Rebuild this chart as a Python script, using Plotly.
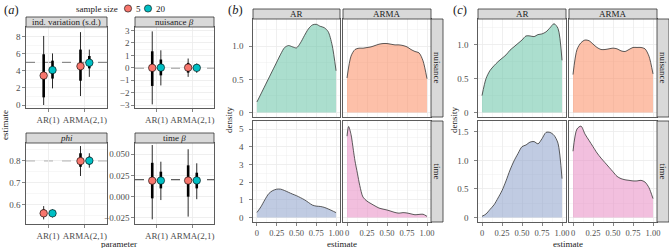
import plotly.graph_objects as go

W, H = 669, 248
FONT = "Liberation Serif"
TXT = "#1A1A1A"
TICK = "#4D4D4D"
GRID = "#EBEBEB"
BORDER = "#333333"
STRIP = "#D9D9D9"

# ---------------- panel (a) data ----------------
param_labels = ["ind. variation (s.d.)", "nuisance <i>β</i>", "<i>phi</i>", "time <i>β</i>"]
model_labels = ["AR(1)", "ARMA(2,1)"]
size_labels = ["5", "20"]
size_colors = ["#F8766D", "#00BFC4"]
true_values = [5, 0, 0.8, 0.02]

# order: sd-AR, sd-ARMA, nuis-AR, nuis-ARMA, phi-AR, phi-ARMA, time-AR, time-ARMA
est_n5 = [3.45, 4.55, 0.00, 0.02, 0.559, 0.798, 0.0189, 0.0190]
lo95_n5 = [0.00, 1.05, -2.93, -0.72, 0.531, 0.730, -0.0268, -0.0236]
hi95_n5 = [8.10, 8.55, 2.93, 0.75, 0.592, 0.867, 0.0610, 0.0560]
lo50_n5 = [0.90, 2.85, -1.45, -0.38, 0.545, 0.772, -0.0020, 0.0000]
hi50_n5 = [5.95, 6.50, 1.33, 0.40, 0.577, 0.834, 0.0400, 0.0370]

est_n20 = [4.10, 4.96, 0.02, 0.00, 0.559, 0.800, 0.0190, 0.0192]
lo95_n20 = [1.95, 3.30, -1.41, -0.40, 0.540, 0.768, -0.0040, -0.0030]
hi95_n20 = [6.05, 6.50, 1.41, 0.35, 0.577, 0.834, 0.0413, 0.0394]
lo50_n20 = [3.10, 4.30, -0.60, -0.20, 0.548, 0.783, 0.0098, 0.0098]
hi50_n20 = [5.20, 5.75, 0.67, 0.20, 0.570, 0.818, 0.0295, 0.0283]

sd_ticks = [0, 2, 4, 6, 8]
nuis_ticks = [-3, -2, -1, 0, 1, 2, 3]
phi_ticks = [0.6, 0.7, 0.8]
phi_ticktext = ["0.6", "0.7", "0.8"]
time_ticks = [-0.025, 0, 0.025, 0.05]
time_ticktext = ["−0.025", "0.000", "0.025", "0.050"]

# ---------------- panels (b),(c) density data ----------------
model_cols = ["AR", "ARMA"]
process_rows = ["nuisance", "time"]
dens_x = [0, 0.05, 0.10, 0.15, 0.20, 0.25, 0.30, 0.35, 0.40, 0.45, 0.50,
          0.55, 0.60, 0.65, 0.70, 0.75, 0.80, 0.85, 0.90, 0.95, 1.00]
b_nuis_ar = [0.16, 0.28, 0.40, 0.52, 0.64, 0.76, 0.88, 0.98, 1.01, 0.99, 0.975,
             1.05, 1.16, 1.26, 1.32, 1.33, 1.30, 1.28, 1.22, 1.02, 0.63]
b_nuis_arma = [0.52, 0.85, 0.95, 0.97, 0.97, 0.98, 0.99, 1.01, 1.03, 1.04, 1.04,
               1.03, 1.02, 1.02, 1.01, 0.99, 0.95, 0.92, 0.90, 0.78, 0.51]
b_time_ar = [0.28, 0.60, 1.00, 1.35, 1.52, 1.60, 1.60, 1.52, 1.42, 1.32, 1.23,
             1.12, 1.00, 0.85, 0.70, 0.64, 0.62, 0.57, 0.48, 0.38, 0.27]
b_time_arma_x = [0, 0.02, 0.05, 0.08, 0.10, 0.13, 0.16, 0.20, 0.25, 0.30, 0.35, 0.40,
                 0.45, 0.50, 0.55, 0.60, 0.65, 0.70, 0.75, 0.80, 0.85, 0.90, 0.95, 1.00]
b_time_arma = [4.6, 5.15, 4.7, 3.8, 3.2, 2.5, 1.8, 1.15, 0.92, 0.78, 0.65, 0.53,
               0.47, 0.42, 0.35, 0.28, 0.24, 0.27, 0.25, 0.20, 0.15, 0.17, 0.18, 0.06]
c_nuis_ar = [0.25, 0.50, 0.62, 0.69, 0.75, 0.80, 0.85, 0.92, 0.97, 1.02, 1.07,
             1.13, 1.13, 1.12, 1.15, 1.16, 1.19, 1.25, 1.31, 1.24, 0.77]
c_nuis_arma = [0.56, 0.93, 1.03, 1.07, 1.06, 1.01, 0.96, 0.93, 0.93, 0.94, 0.95,
               0.94, 0.91, 0.90, 0.93, 0.96, 0.96, 0.96, 0.94, 0.83, 0.57]
c_time_ar = [0.02, 0.06, 0.14, 0.22, 0.34, 0.47, 0.64, 0.83, 0.99, 1.12, 1.24,
             1.27, 1.32, 1.33, 1.29, 1.38, 1.49, 1.49, 1.44, 1.30, 0.68]
c_time_arma = [1.16, 1.55, 1.60, 1.46, 1.35, 1.24, 1.13, 1.04, 0.96, 0.88, 0.80,
               0.72, 0.68, 0.66, 0.65, 0.64, 0.64, 0.65, 0.62, 0.52, 0.33]
dens_ticks = [0, 0.25, 0.5, 0.75, 1]
dens_ticktext = ["0", "0.25", "0.50", "0.75", "1.00"]

fill_colors = {("nuisance", "AR"): "rgba(102,194,165,0.55)",
               ("nuisance", "ARMA"): "rgba(252,141,98,0.55)",
               ("time", "AR"): "rgba(141,160,203,0.55)",
               ("time", "ARMA"): "rgba(231,138,195,0.55)"}

fig = go.Figure()
layout = {}
shapes = []
annotations = []


def fx(px):
    return px / W


def fy(py):
    return 1 - py / H


def axname(k, letter):
    return f"{letter}axis" if k == 1 else f"{letter}axis{k}"


def ref(k, letter):
    return letter if k == 1 else f"{letter}{k}"


def base_axis(**kw):
    d = dict(showline=True, mirror=True, linecolor=BORDER, linewidth=0.8,
             showgrid=True, gridcolor=GRID, gridwidth=0.8, zeroline=False,
             ticks="outside", ticklen=3, tickwidth=0.6, tickcolor=BORDER,
             tickfont=dict(family=FONT, size=9, color=TICK), fixedrange=True,
             automargin=False, tickangle=0)
    d.update(kw)
    return d


def add_text(txt, x, y, size=9, angle=0, xanchor="center", color=TXT):
    annotations.append(dict(text=txt, x=fx(x), y=fy(y), xref="paper", yref="paper",
                            showarrow=False, textangle=angle, xanchor=xanchor,
                            yanchor="middle", font=dict(family=FONT, size=size, color=color)))


def add_strip(x0, x1, y0, y1, txt, angle=0):
    shapes.append(dict(type="rect", xref="paper", yref="paper", x0=fx(x0), x1=fx(x1),
                       y0=fy(y1), y1=fy(y0), fillcolor=STRIP,
                       line=dict(color=BORDER, width=0.8), layer="above"))
    add_text(txt, (x0 + x1) / 2, (y0 + y1) / 2, size=9, angle=angle)


# ---------------- panel (a) ----------------
a_boxes = [(26, 107, 27, 108), (135, 214, 27, 108), (26, 107, 143, 224), (135, 214, 143, 224)]
a_y = [
    dict(range=[-0.35, 9.15], tickvals=sd_ticks, minor=[1, 3, 5, 7, 9]),
    dict(range=[-3.22, 3.28], tickvals=nuis_ticks, minor=[-2.5, -1.5, -0.5, 0.5, 1.5, 2.5]),
    dict(range=[0.51, 0.881], tickvals=phi_ticks, ticktext=phi_ticktext, minor=[0.55, 0.65, 0.75, 0.85]),
    dict(range=[-0.0323, 0.0634], tickvals=time_ticks, ticktext=time_ticktext,
         minor=[-0.0125, 0.0125, 0.0375, 0.0625]),
]
dodge = [-0.12, 0.12]
stats = [(est_n5, lo95_n5, hi95_n5, lo50_n5, hi50_n5),
         (est_n20, lo95_n20, hi95_n20, lo50_n20, hi50_n20)]

for p in range(4):
    k = p + 1
    x0, x1, y0, y1 = a_boxes[p]
    cfg = a_y[p]
    layout[axname(k, "x")] = base_axis(domain=[fx(x0), fx(x1)], anchor=ref(k, "y"),
                                       range=[0.4, 2.6], tickmode="array", tickvals=[1, 2],
                                       ticktext=model_labels)
    yax = base_axis(domain=[fy(y1), fy(y0)], anchor=ref(k, "x"), range=cfg["range"],
                    tickmode="array", tickvals=cfg["tickvals"],
                    minor=dict(tickmode="array", tickvals=cfg["minor"], showgrid=True,
                               gridcolor=GRID, gridwidth=0.4, ticks=""))
    if "ticktext" in cfg:
        yax["ticktext"] = cfg["ticktext"]
    layout[axname(k, "y")] = yax
    add_strip(x0, x1, y0 - 10, y0, param_labels[p])
    shapes.append(dict(type="line", xref="paper", yref=ref(k, "y"),
                       x0=fx(x0), x1=fx(x1), y0=true_values[p], y1=true_values[p],
                       line=dict(color="#333333", width=1, dash="dash"), layer="below"))
    for s in range(2):
        est, lo95, hi95, lo50, hi50 = stats[s]
        xs = [m + 1 + dodge[s] for m in range(2)]
        tx, ty, kx, ky = [], [], [], []
        for m in range(2):
            i = 2 * p + m
            tx += [xs[m], xs[m], None]
            ty += [lo95[i], hi95[i], None]
            kx += [xs[m], xs[m], None]
            ky += [lo50[i], hi50[i], None]
        fig.add_trace(go.Scatter(x=tx, y=ty, mode="lines", xaxis=ref(k, "x"), yaxis=ref(k, "y"),
                                 line=dict(color="#2b2b2b", width=1), showlegend=False,
                                 hoverinfo="skip"))
        fig.add_trace(go.Scatter(x=kx, y=ky, mode="lines", xaxis=ref(k, "x"), yaxis=ref(k, "y"),
                                 line=dict(color="black", width=2.6), showlegend=False,
                                 hoverinfo="skip"))
        fig.add_trace(go.Scatter(x=xs, y=est[2 * p:2 * p + 2], mode="markers",
                                 xaxis=ref(k, "x"), yaxis=ref(k, "y"),
                                 marker=dict(size=7.5, color=size_colors[s],
                                             line=dict(color="black", width=0.6)),
                                 showlegend=False))

# legend of (a)
add_text("sample size", 120, 8.5, size=9, xanchor="right")
for s, (cx, tx) in enumerate([(128, 134), (148, 154)]):
    r = 3.6
    shapes.append(dict(type="circle", xref="paper", yref="paper",
                       x0=fx(cx - r), x1=fx(cx + r), y0=fy(8.5 + r), y1=fy(8.5 - r),
                       fillcolor=size_colors[s], line=dict(color="black", width=0.6)))
    add_text(size_labels[s], tx, 8.5, size=9, xanchor="left")

add_text("(<i>a</i>)", 2, 10, size=12.5, xanchor="left")
add_text("estimate", 5, 125, size=9, angle=-90)
add_text("parameter", 119, 244, size=9)

# ---------------- panels (b), (c) ----------------
panel_sets = [
    dict(letter="b", cols=[(253, 340), (343, 431)], strip_r=(431, 443),
         data={("nuisance", "AR"): (dens_x, b_nuis_ar),
               ("nuisance", "ARMA"): (dens_x, b_nuis_arma),
               ("time", "AR"): (dens_x, b_time_ar),
               ("time", "ARMA"): (b_time_arma_x, b_time_arma)},
         yaxes={"nuisance": dict(range=[-0.067, 1.41], tickvals=[0, 0.5, 1.0],
                                 ticktext=["0", "0.5", "1.0"], minor=[0.25, 0.75, 1.25]),
                "time": dict(range=[-0.26, 5.46], tickvals=[0, 1, 2, 3, 4, 5],
                             ticktext=["0", "1", "2", "3", "4", "5"],
                             minor=[0.5, 1.5, 2.5, 3.5, 4.5])}),
    dict(letter="c", cols=[(478, 566), (569, 657)], strip_r=(657, 669),
         data={("nuisance", "AR"): (dens_x, c_nuis_ar),
               ("nuisance", "ARMA"): (dens_x, c_nuis_arma),
               ("time", "AR"): (dens_x, c_time_ar),
               ("time", "ARMA"): (dens_x, c_time_arma)},
         yaxes={"nuisance": dict(range=[-0.066, 1.38], tickvals=[0, 0.5, 1.0],
                                 ticktext=["0", "0.5", "1.0"], minor=[0.25, 0.75, 1.25]),
                "time": dict(range=[-0.08, 1.69], tickvals=[0, 0.5, 1.0, 1.5],
                             ticktext=["0", "0.5", "1.0", "1.5"], minor=[0.25, 0.75, 1.25])}),
]
rows_px = {"nuisance": (19, 117), "time": (121, 222)}

k = 5
for ps in panel_sets:
    for r, row in enumerate(process_rows):
        ry0, ry1 = rows_px[row]
        for c, col in enumerate(model_cols):
            cx0, cx1 = ps["cols"][c]
            ycfg = ps["yaxes"][row]
            left = c == 0
            bottom = r == 1
            layout[axname(k, "x")] = base_axis(
                domain=[fx(cx0), fx(cx1)], anchor=ref(k, "y"), range=[-0.05, 1.05],
                tickmode="array", tickvals=dens_ticks, ticktext=dens_ticktext,
                showticklabels=bottom, ticks="outside" if bottom else "",
                tickfont=dict(family=FONT, size=8.5, color=TICK),
                minor=dict(tickmode="array", tickvals=[0.125, 0.375, 0.625, 0.875],
                           showgrid=True, gridcolor=GRID, gridwidth=0.4, ticks=""))
            layout[axname(k, "y")] = base_axis(
                domain=[fy(ry1), fy(ry0)], anchor=ref(k, "x"), range=ycfg["range"],
                tickmode="array", tickvals=ycfg["tickvals"], ticktext=ycfg["ticktext"],
                showticklabels=left, ticks="outside" if left else "",
                minor=dict(tickmode="array", tickvals=ycfg["minor"], showgrid=True,
                           gridcolor=GRID, gridwidth=0.4, ticks=""),
                ticklabelstandoff=4)
            xs, ys = ps["data"][(row, col)]
            fig.add_trace(go.Scatter(x=xs, y=ys, mode="lines", fill="tozeroy",
                                     fillcolor=fill_colors[(row, col)],
                                     line=dict(color="#333333", width=0.8, shape="spline",
                                               smoothing=0.8),
                                     xaxis=ref(k, "x"), yaxis=ref(k, "y"), showlegend=False))
            if r == 0:
                add_strip(cx0, cx1, 9, 19, col)
            k += 1
        sx0, sx1 = ps["strip_r"]
        add_strip(sx0, sx1, ry0, ry1, row, angle=90)
    x_left = ps["cols"][0][0]
    x_right = ps["cols"][1][1]
    add_text(f"(<i>{ps['letter']}</i>)", x_left - 27, 10, size=12.5, xanchor="left")
    add_text("density", x_left - 24, 120, size=9, angle=-90)
    add_text("estimate", (x_left + x_right) / 2, 244, size=9)

fig.update_layout(
    width=W, height=H, autosize=False,
    margin=dict(l=0, r=0, t=0, b=0, pad=0),
    paper_bgcolor="white", plot_bgcolor="white",
    showlegend=False, shapes=shapes, annotations=annotations,
    font=dict(family=FONT, color=TXT),
    **layout,
)

fig.write_html(
    "out.html",
    config={"staticPlot": True, "displayModeBar": False},
    post_script="document.body.style.margin='0';document.body.style.padding='0';"
                "document.documentElement.style.overflow='hidden';",
)
